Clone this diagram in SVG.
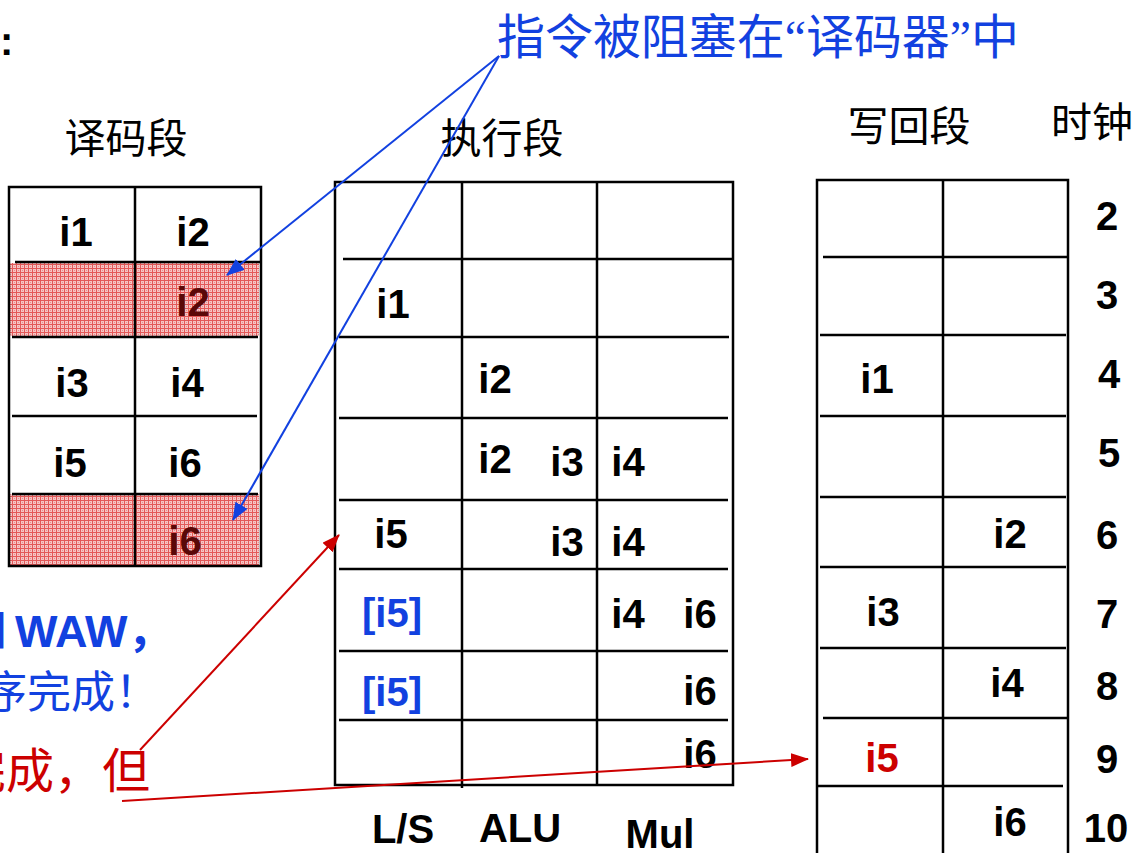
<svg xmlns="http://www.w3.org/2000/svg" width="1135" height="853" viewBox="0 0 1135 853">
<style>
.g{stroke:#000;stroke-width:2.5;fill:none}
.lb{font-family:"Liberation Sans",Arial,sans-serif;font-weight:bold;font-size:40px;fill:#000;text-anchor:middle}
.cn{font-family:"Noto Sans CJK SC",sans-serif;font-size:41px;fill:#000;text-anchor:middle}
.dk{fill:#5a0808}
.bl{fill:#1241e0}
.rd{fill:#cc0000}
</style>
<defs>
<pattern id="hatch" width="4" height="4" patternUnits="userSpaceOnUse">
<rect width="4" height="4" fill="#f5c4c4"/>
<rect x="0" y="0" width="1" height="4" fill="#e35858"/>
<rect x="0" y="0" width="4" height="1" fill="#e35858"/>
<rect x="2" y="2" width="1" height="1" fill="#ec8c8c"/>
</pattern>
<marker id="ab" markerWidth="18" markerHeight="14" refX="17" refY="7" orient="auto" markerUnits="userSpaceOnUse" viewBox="0 0 18 14">
<path d="M0,0 L18,7 L0,14 Z" fill="#1241e0"/>
</marker>
<marker id="ar" markerWidth="18" markerHeight="14" refX="17" refY="7" orient="auto" markerUnits="userSpaceOnUse" viewBox="0 0 18 14">
<path d="M0,0 L18,7 L0,14 Z" fill="#cc0000"/>
</marker>
</defs>
<rect width="1135" height="853" fill="#fff"/>

<text x="0" y="55" font-family="Liberation Sans,sans-serif" font-weight="bold" font-size="40" fill="#000">:</text>

<g id="titles">
<text class="cn" x="126" y="153">译码段</text>
<text class="cn" x="502" y="153">执行段</text>
<text class="cn" x="909" y="141">写回段</text>
<text class="cn" x="1092" y="137">时钟</text>
</g>

<g id="note-top">
<text x="497" y="54" font-family="Liberation Serif,Noto Sans CJK SC,sans-serif" font-size="48" fill="#1241e0" textLength="522" lengthAdjust="spacingAndGlyphs">指令被阻塞在“译码器”中</text>
</g>

<g id="decode">
<rect x="10" y="263" width="249" height="73" fill="url(#hatch)"/>
<rect x="10" y="494" width="249" height="71" fill="url(#hatch)"/>
<rect class="g" x="9" y="187" width="252" height="379"/>
<line class="g" x1="135" y1="187" x2="135" y2="566"/>
<line class="g" x1="15" y1="262" x2="260" y2="262"/>
<line class="g" x1="12" y1="337" x2="258" y2="337"/>
<line class="g" x1="12" y1="416" x2="257" y2="416"/>
<line class="g" x1="12" y1="494" x2="258" y2="494"/>
<text class="lb" x="76" y="246">i1</text>
<text class="lb" x="193" y="246">i2</text>
<text class="lb dk" x="193" y="316">i2</text>
<text class="lb" x="72" y="397">i3</text>
<text class="lb" x="187" y="397">i4</text>
<text class="lb" x="70" y="477">i5</text>
<text class="lb" x="185" y="477">i6</text>
<text class="lb dk" x="185" y="555">i6</text>
</g>

<g id="execute">
<rect class="g" x="335" y="182" width="398" height="603"/>
<line class="g" x1="462" y1="182" x2="462" y2="788"/>
<line class="g" x1="597" y1="182" x2="597" y2="785"/>
<line class="g" x1="343" y1="259" x2="733" y2="259"/>
<line class="g" x1="339" y1="337" x2="729" y2="337"/>
<line class="g" x1="339" y1="418" x2="728" y2="418"/>
<line class="g" x1="339" y1="500" x2="728" y2="500"/>
<line class="g" x1="339" y1="569" x2="728" y2="569"/>
<line class="g" x1="339" y1="651" x2="728" y2="651"/>
<line class="g" x1="339" y1="720" x2="728" y2="720"/>
<text class="lb" x="393" y="318">i1</text>
<text class="lb" x="495" y="393">i2</text>
<text class="lb" x="495" y="473">i2</text>
<text class="lb" x="567" y="476">i3</text>
<text class="lb" x="628" y="476">i4</text>
<text class="lb" x="391" y="548">i5</text>
<text class="lb" x="567" y="556">i3</text>
<text class="lb" x="628" y="556">i4</text>
<text class="lb bl" x="392" y="627">[i5]</text>
<text class="lb" x="628" y="628">i4</text>
<text class="lb" x="700" y="628">i6</text>
<text class="lb bl" x="392" y="706">[i5]</text>
<text class="lb" x="700" y="705">i6</text>
<text class="lb" x="700" y="768">i6</text>
<text class="lb" x="403" y="843">L/S</text>
<text class="lb" x="520" y="842">ALU</text>
<text class="lb" x="660" y="848">Mul</text>
</g>

<g id="writeback">
<polyline class="g" points="817,853 817,180 1068,180 1068,853"/>
<line class="g" x1="943" y1="180" x2="943" y2="853"/>
<line class="g" x1="823" y1="257" x2="1068" y2="257"/>
<line class="g" x1="820" y1="335" x2="1066" y2="335"/>
<line class="g" x1="820" y1="416" x2="1066" y2="416"/>
<line class="g" x1="820" y1="497" x2="1066" y2="497"/>
<line class="g" x1="820" y1="567" x2="1066" y2="567"/>
<line class="g" x1="820" y1="648" x2="1066" y2="648"/>
<line class="g" x1="823" y1="718" x2="1068" y2="718"/>
<line class="g" x1="818" y1="786" x2="1063" y2="786"/>
<text class="lb" x="877" y="393">i1</text>
<text class="lb" x="1010" y="548">i2</text>
<text class="lb" x="883" y="626">i3</text>
<text class="lb" x="1007" y="697">i4</text>
<text class="lb rd" x="882" y="772">i5</text>
<text class="lb" x="1010" y="836">i6</text>
</g>

<g id="clock">
<text class="lb" x="1107" y="230">2</text>
<text class="lb" x="1107" y="309">3</text>
<text class="lb" x="1109" y="388">4</text>
<text class="lb" x="1109" y="467">5</text>
<text class="lb" x="1107" y="549">6</text>
<text class="lb" x="1107" y="628">7</text>
<text class="lb" x="1107" y="700">8</text>
<text class="lb" x="1107" y="773">9</text>
<text class="lb" x="1106" y="842">10</text>
</g>

<g id="notes-left">
<text x="-38 15" y="647" font-family="Liberation Sans,Noto Sans CJK SC,sans-serif" font-weight="bold" font-size="45" fill="#1241e0">和WAW，</text>
<text x="-17" y="708" font-family="Noto Sans CJK SC,sans-serif" font-size="44" fill="#1241e0">序完成！</text>
<text x="-42" y="788" font-family="Noto Sans CJK SC,sans-serif" font-size="48" fill="#cc0000">完成，但</text>
</g>

<g id="connectors" fill="none" stroke-width="2">
<line x1="499" y1="56" x2="227" y2="275" stroke="#1241e0" marker-end="url(#ab)"/>
<line x1="499" y1="56" x2="233" y2="520" stroke="#1241e0" marker-end="url(#ab)"/>
<line x1="140" y1="750" x2="339" y2="535" stroke="#cc0000" marker-end="url(#ar)"/>
<line x1="122" y1="801" x2="808" y2="759" stroke="#cc0000" marker-end="url(#ar)"/>
</g>
</svg>
